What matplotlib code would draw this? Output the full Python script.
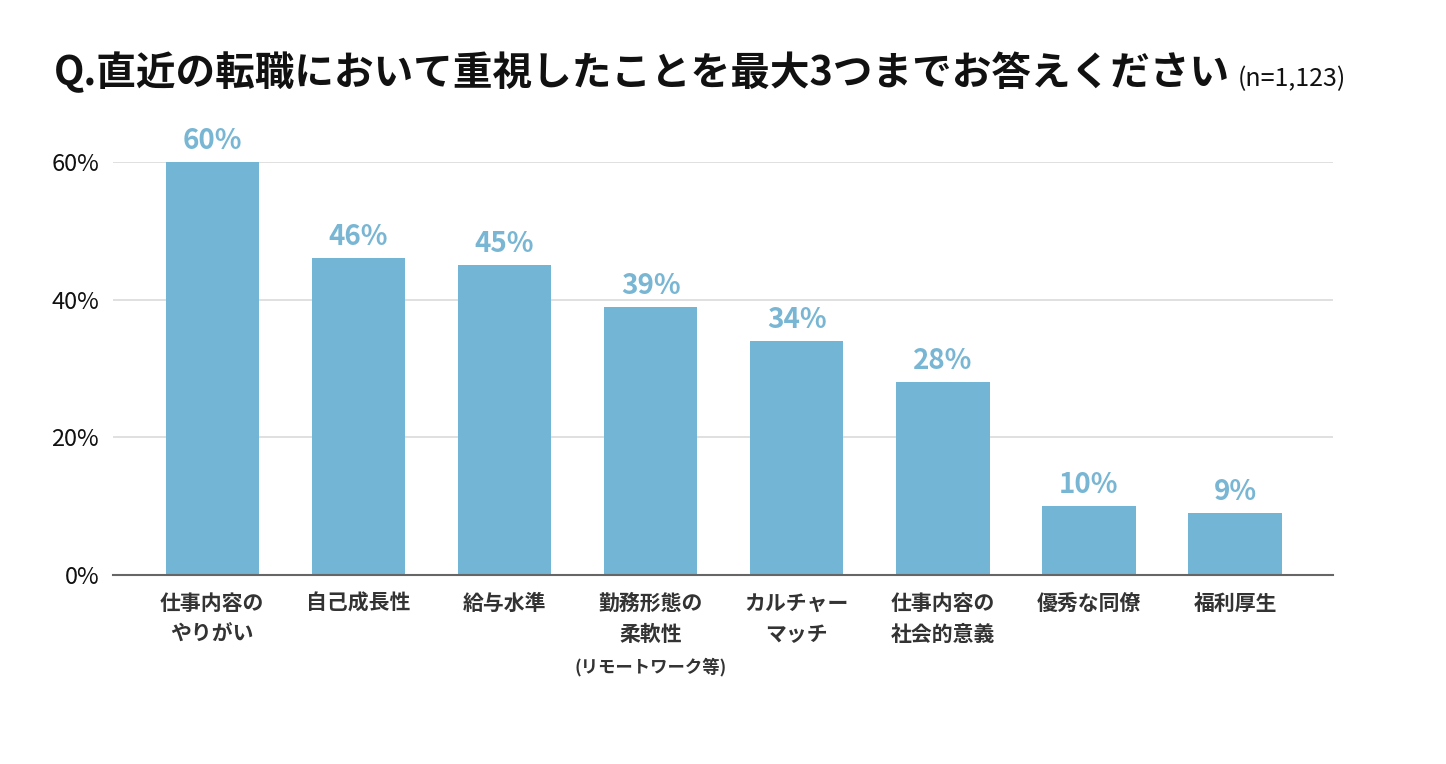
import matplotlib
matplotlib.use("Agg")
import matplotlib.pyplot as plt

plt.rcParams["font.family"] = ["Noto Sans CJK JP", "DejaVu Sans"]

categories = ["仕事内容の\nやりがい", "自己成長性", "給与水準", "勤務形態の\n柔軟性",
              "カルチャー\nマッチ", "仕事内容の\n社会的意義", "優秀な同僚", "福利厚生"]
notes = ["", "", "", "(リモートワーク等)", "", "", "", ""]
values = [60, 46, 45, 39, 34, 28, 10, 9]
yticks = [0, 20, 40, 60]

title = "Q.直近の転職において重視したことを最大3つまでお答えください"
sample = "(n=1,123)"

bar_color = "#72B5D5"
label_color = "#78B6D4"

fig = plt.figure(figsize=(14.46, 7.64), dpi=100)
ax = fig.add_axes([0.0781, 0.2474, 0.8437, 0.5406])

x = range(len(values))
ax.bar(x, values, width=0.64, color=bar_color, zorder=2)
for i, v in enumerate(values):
    ax.text(i, v + 1.0, f"{v}%", ha="center", va="bottom", fontsize=20,
            color=label_color, fontweight="bold", clip_on=False)

ax.set_xlim(-0.68, 7.67)
ax.set_ylim(0, 60)
ax.set_yticks(yticks)
ax.set_yticklabels([f"{t}%" for t in yticks], fontsize=17, color="#111111")
ax.set_xticks(list(x))
ax.set_xticklabels(categories, fontsize=15, color="#333333", fontweight="bold",
                   linespacing=1.6)
for i, n in enumerate(notes):
    if n:
        ax.text(i, -13.4, n, ha="center", va="center", fontsize=12.5,
                color="#333333", fontweight="bold", clip_on=False)

ax.tick_params(axis="both", length=0)
ax.tick_params(axis="x", pad=13)
ax.tick_params(axis="y", pad=10)
ax.grid(axis="y", color="#DADADA", linewidth=1.2, zorder=0)
for s in ["top", "right", "left"]:
    ax.spines[s].set_visible(False)
ax.spines["bottom"].set_color("#666666")
ax.spines["bottom"].set_linewidth(1.5)
ax.spines["bottom"].set_zorder(3)

t = fig.text(0.037, 0.904, title, fontsize=28.5, fontweight="bold", color="#111111",
             va="center", ha="left")
fig.canvas.draw()
bb = t.get_window_extent()
fig.text((bb.x1 + 8) / fig.bbox.width, 0.896, sample, fontsize=18, color="#111111",
         va="center", ha="left")

fig.savefig("out.png", dpi=100, facecolor="white")
